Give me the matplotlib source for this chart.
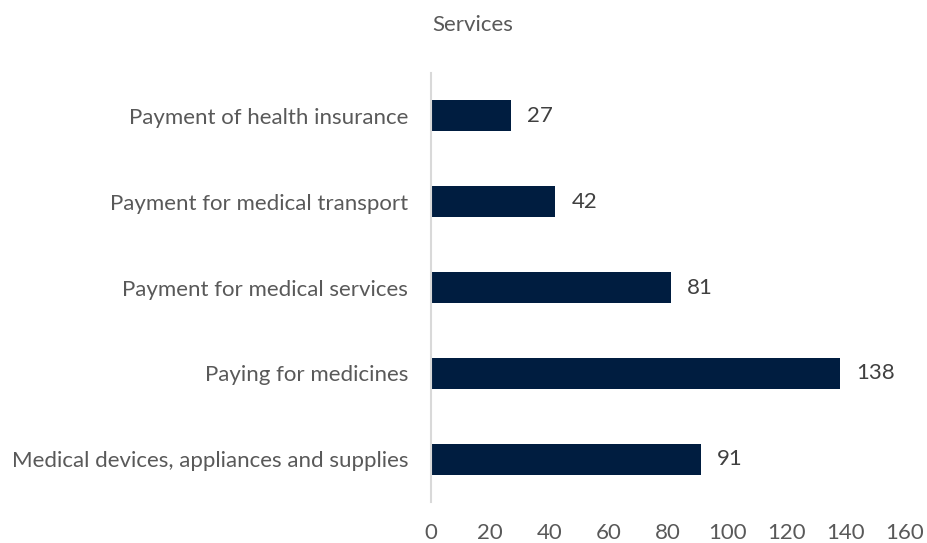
import matplotlib.pyplot as plt

services = ["Medical devices, appliances and supplies",
            "Paying for medicines",
            "Payment for medical services",
            "Payment for medical transport",
            "Payment of health insurance"]
counts = [91, 138, 81, 42, 27]
xticks = [0, 20, 40, 60, 80, 100, 120, 140, 160]

plt.rcParams['font.family'] = ['Lato', 'DejaVu Sans']
text_col = '#595959'
fs = 16

fig = plt.figure(figsize=(9.27, 5.43), dpi=100)
ax = fig.add_axes([431/927, 41/543, 474/927, 429/543])

pos = range(len(services))
ax.barh(pos, counts, height=0.36, color='#001d40')
for p, c in zip(pos, counts):
    ax.text(c + 5.5, p, str(c), va='center', ha='left', fontsize=fs, color='#404040')

ax.set_xlim(0, 160)
ax.set_ylim(-0.5, 4.5)
ax.set_yticks(list(pos))
ax.set_yticklabels(services, fontsize=fs, color=text_col)
ax.set_xticks(xticks)
ax.set_xticklabels([str(t) for t in xticks], fontsize=fs, color=text_col)
ax.tick_params(axis='both', length=0)
ax.tick_params(axis='y', pad=16.5)
ax.tick_params(axis='x', pad=15)

for s in ['top', 'right', 'bottom']:
    ax.spines[s].set_visible(False)
ax.spines['left'].set_color('#d9d9d9')
ax.spines['left'].set_linewidth(1.5)

fig.text(473/927, 1 - 25/543, "Services", ha='center', va='center', fontsize=fs, color=text_col)

fig.savefig('out.png', dpi=100)
